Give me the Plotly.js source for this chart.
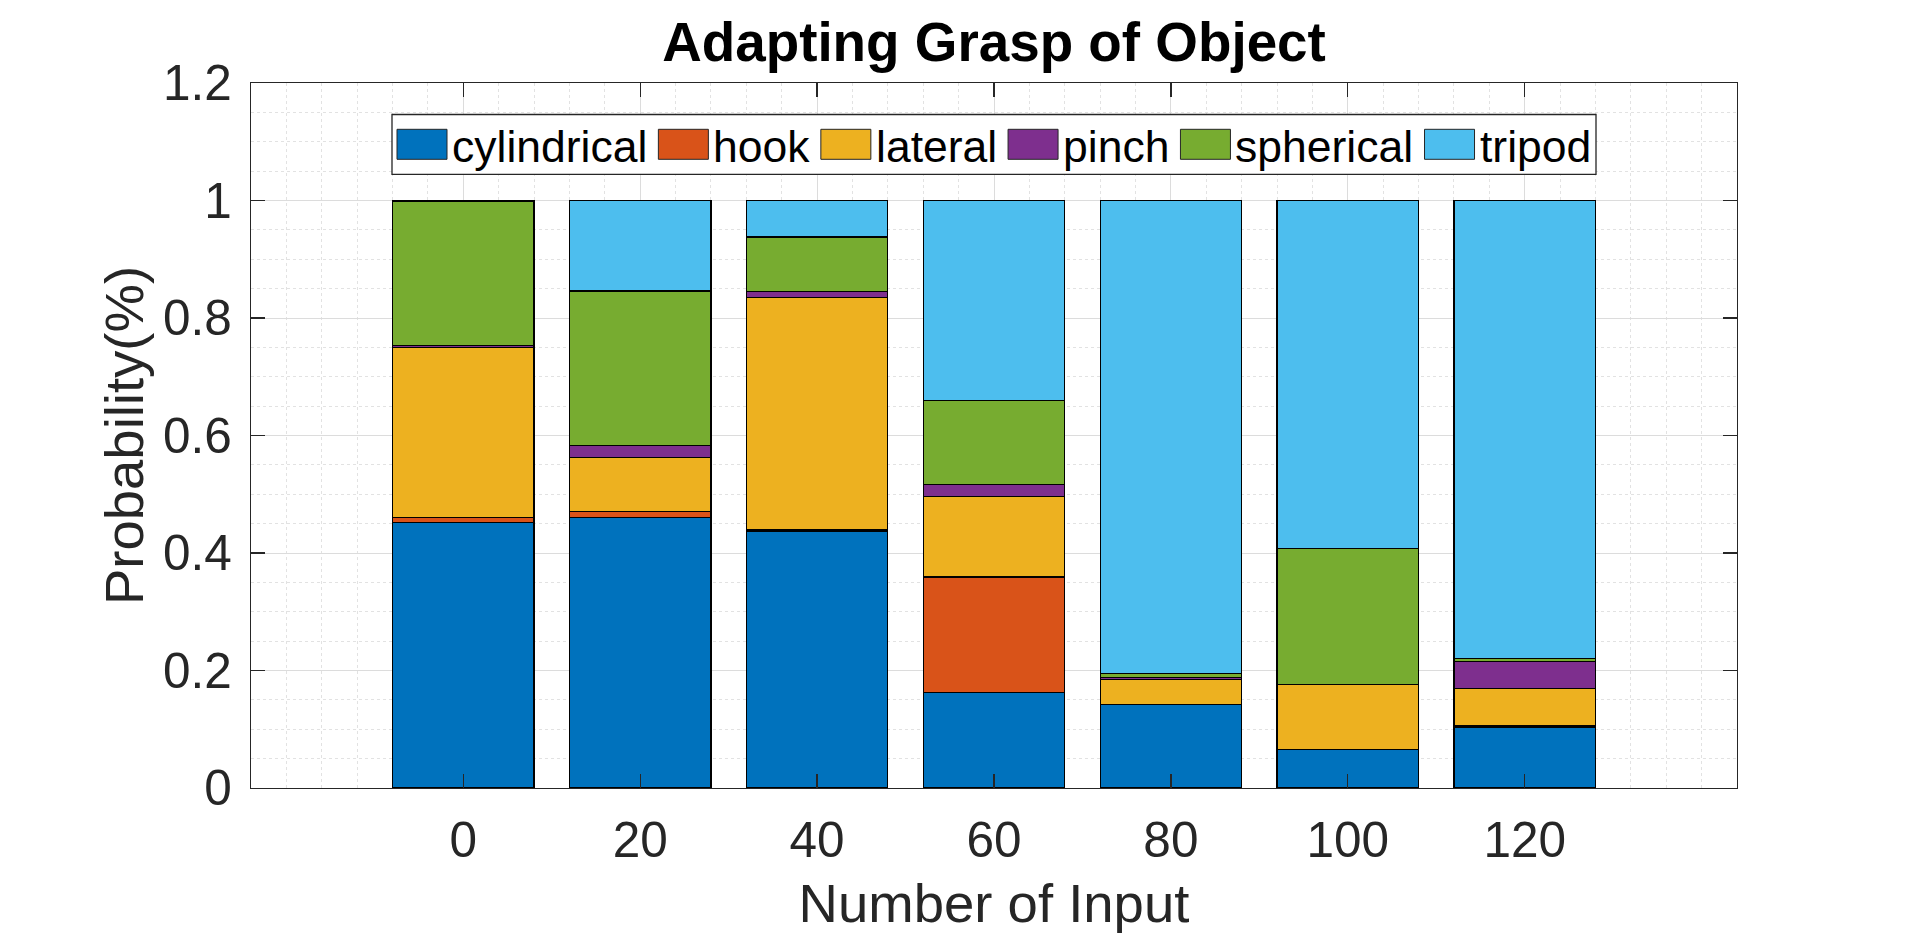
<!DOCTYPE html>
<html>
<head>
<meta charset="utf-8">
<script src="https://cdn.plot.ly/plotly-3.0.1.min.js"></script>
<style>
  html, body { margin: 0; padding: 0; background: #fff; }
  #chart { width: 1920px; height: 936px; }
</style>
</head>
<body>
<div id="chart"></div>
<script>
// data
var inputCounts = [0, 20, 40, 60, 80, 100, 120];
var seriesNames = ['cylindrical', 'hook', 'lateral', 'pinch', 'spherical', 'tripod'];
var seriesColors = ['#0072BD', '#D95319', '#EDB120', '#7E2F8E', '#77AC30', '#4DBEEE'];

var cylindrical = [0.452, 0.461, 0.436, 0.162, 0.142, 0.065, 0.104];
var hook        = [0.008, 0.010, 0.003, 0.197, 0.000, 0.000, 0.002];
var lateral     = [0.290, 0.091, 0.396, 0.137, 0.043, 0.111, 0.064];
var pinch       = [0.003, 0.021, 0.010, 0.020, 0.003, 0.000, 0.046];
var spherical   = [0.245, 0.263, 0.093, 0.143, 0.007, 0.231, 0.005];
var tripod      = [0.002, 0.154, 0.062, 0.341, 0.805, 0.593, 0.779];

var yTicks = [0, 0.2, 0.4, 0.6, 0.8, 1, 1.2];
var yTickText = ['0', '0.2', '0.4', '0.6', '0.8', '1', '1.2'];

var seriesValues = [cylindrical, hook, lateral, pinch, spherical, tripod];

var FONT = 'Liberation Sans, Arial, Helvetica, sans-serif';
var W = 1920, H = 936;
var M = {l: 251, r: 183, t: 83, b: 148};
var plotW = W - M.l - M.r, plotH = H - M.t - M.b;

// pixel -> paper helpers for the legend box
function px2x(px) { return (px - M.l) / plotW; }
function py2y(py) { return (H - M.b - py) / plotH; }

var traces = seriesNames.map(function (name, i) {
  return {
    type: 'bar',
    name: name,
    x: inputCounts,
    y: seriesValues[i],
    width: 16,
    marker: {color: seriesColors[i], line: {color: '#000', width: 1.2}},
    showlegend: false,
    hoverinfo: 'x+y+name'
  };
});

// legend drawn by hand so the swatches match the MATLAB size
var legendFontSize = 44.5;
var ctx = document.createElement('canvas').getContext('2d');
ctx.font = legendFontSize + 'px "Liberation Sans"';

var shapes = [], annotations = [];
var boxLeft = 392, boxRight = 1596, boxTop = 114.5, boxBottom = 174.3;
shapes.push({
  type: 'rect', xref: 'paper', yref: 'paper', layer: 'above',
  x0: px2x(boxLeft), x1: px2x(boxRight), y0: py2y(boxBottom), y1: py2y(boxTop),
  fillcolor: '#fff', line: {color: '#262626', width: 1.3}
});
var cursor = 397;
seriesNames.forEach(function (name, i) {
  shapes.push({
    type: 'rect', xref: 'paper', yref: 'paper', layer: 'above',
    x0: px2x(cursor), x1: px2x(cursor + 50), y0: py2y(159.3), y1: py2y(129.3),
    fillcolor: seriesColors[i], line: {color: '#262626', width: 1}
  });
  var tw = ctx.measureText(name).width;
  annotations.push({
    xref: 'paper', yref: 'paper', x: px2x(cursor + 53), y: py2y(146),
    xanchor: 'left', yanchor: 'middle', showarrow: false, text: name,
    font: {family: FONT, size: legendFontSize, color: '#000'}
  });
  cursor += 54 + tw + 12;
});

var layout = {
  width: W, height: H,
  margin: M,
  paper_bgcolor: '#fff', plot_bgcolor: '#fff',
  barmode: 'stack',
  bargap: 0,
  font: {family: FONT, color: '#262626'},
  title: {
    text: 'Adapting Grasp of Object',
    font: {family: FONT, size: 54.8, color: '#000', weight: 'bold'},
    x: 0.5, xref: 'paper', xanchor: 'center',
    y: 1 - 42 / H, yref: 'container', yanchor: 'middle'
  },
  xaxis: {
    range: [-24, 144],
    tickmode: 'array', tickvals: inputCounts,
    ticktext: inputCounts.map(String),
    tickfont: {size: 49.5, color: '#262626'},
    ticks: 'inside', ticklen: 14, tickwidth: 1.3, tickcolor: '#262626',
    ticklabelstandoff: 8,
    showline: true, linecolor: '#262626', linewidth: 1.3, mirror: 'ticks',
    showgrid: true, gridcolor: '#dcdcdc', gridwidth: 1,
    minor: {dtick: 4, tick0: 0, showgrid: true, gridcolor: '#e2e2e2', griddash: 'dot', gridwidth: 1, ticks: ''},
    zeroline: false,
    title: {text: 'Number of Input', font: {size: 54.5, color: '#262626'}, standoff: 18},
    automargin: false
  },
  yaxis: {
    range: [0, 1.2],
    tickmode: 'array', tickvals: yTicks, ticktext: yTickText,
    tickfont: {size: 49.5, color: '#262626'},
    ticks: 'inside', ticklen: 14, tickwidth: 1.3, tickcolor: '#262626',
    ticklabelstandoff: 8,
    showline: true, linecolor: '#262626', linewidth: 1.3, mirror: 'ticks',
    showgrid: true, gridcolor: '#dcdcdc', gridwidth: 1,
    minor: {dtick: 0.05, tick0: 0, showgrid: true, gridcolor: '#e2e2e2', griddash: 'dot', gridwidth: 1, ticks: ''},
    zeroline: false,
    title: {text: 'Probability(%)', font: {size: 54.5, color: '#262626'}, standoff: 2},
    automargin: false
  },
  shapes: shapes,
  annotations: annotations
};

Plotly.newPlot('chart', traces, layout, {displayModeBar: false, staticPlot: true});
</script>
</body>
</html>
